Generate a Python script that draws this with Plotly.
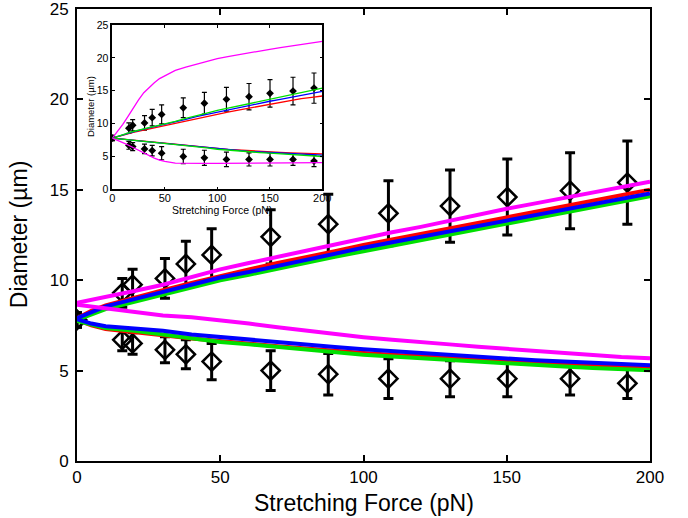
import plotly.graph_objects as go

# ---------------- data ----------------
# experimental points (mean +/- error)
force_pts = [0, 15.8, 19.4, 30.7, 38, 47, 67.6, 87.7, 108.7, 130.2, 150.2, 172.1, 192.1]
upper_mean = [7.8, 9.3, 9.75, 10.1, 10.9, 11.4, 12.4, 13.1, 13.7, 14.1, 14.6, 14.95, 15.4]
upper_err = [0.4, 0.8, 0.85, 1.1, 1.25, 1.45, 1.5, 1.65, 1.8, 2.0, 2.1, 2.1, 2.3]
lower_mean = [7.8, 6.7, 6.5, 6.15, 5.9, 5.5, 5.0, 4.8, 4.55, 4.55, 4.55, 4.55, 4.3]
lower_err = [0.4, 0.6, 0.6, 0.72, 0.8, 1.0, 1.1, 1.15, 1.1, 1.0, 1.0, 0.9, 0.85]

# main panel simulations
force_main = [0, 5, 10, 20, 30, 40, 50, 60, 70, 80, 90, 100, 110, 120, 130, 140, 150, 160, 170, 180, 190, 200]
red_up = [7.9, 8.3, 8.6, 9.05, 9.45, 9.85, 10.25, 10.6, 10.95, 11.25, 11.6, 11.95, 12.25, 12.55, 12.9, 13.2, 13.5, 13.8, 14.1, 14.4, 14.7, 15.0]
green_up = [7.8, 8.1, 8.4, 8.8, 9.2, 9.6, 10.0, 10.3, 10.65, 10.95, 11.3, 11.6, 11.9, 12.25, 12.55, 12.85, 13.15, 13.45, 13.75, 14.05, 14.35, 14.65]
blue_up = [7.9, 8.25, 8.55, 8.95, 9.35, 9.75, 10.15, 10.45, 10.8, 11.1, 11.45, 11.8, 12.1, 12.4, 12.75, 13.05, 13.35, 13.65, 13.95, 14.25, 14.55, 14.8]
magenta_up = [8.75, 8.9, 9.05, 9.4, 9.75, 10.2, 10.6, 10.95, 11.3, 11.65, 12.0, 12.35, 12.65, 12.95, 13.3, 13.6, 13.95, 14.25, 14.55, 14.85, 15.15, 15.45]
red_lo = [7.8, 7.5, 7.3, 7.15, 6.95, 6.78, 6.62, 6.5, 6.35, 6.22, 6.08, 5.97, 5.87, 5.78, 5.7, 5.62, 5.52, 5.45, 5.38, 5.3, 5.25, 5.2]
green_lo = [7.75, 7.55, 7.35, 7.2, 7.0, 6.78, 6.58, 6.45, 6.3, 6.15, 6.0, 5.88, 5.78, 5.68, 5.58, 5.48, 5.38, 5.3, 5.22, 5.15, 5.08, 5.02]
blue_lo = [7.85, 7.6, 7.45, 7.35, 7.2, 7.0, 6.85, 6.7, 6.57, 6.43, 6.3, 6.18, 6.07, 5.97, 5.87, 5.77, 5.65, 5.57, 5.5, 5.42, 5.36, 5.3]
magenta_lo = [8.65, 8.55, 8.4, 8.2, 8.05, 7.95, 7.8, 7.6, 7.4, 7.2, 7.0, 6.85, 6.7, 6.55, 6.45, 6.32, 6.2, 6.08, 5.95, 5.85, 5.75, 5.68]

# inset simulations
force_inset = [0, 10, 20, 30, 40, 50, 60, 70, 80, 90, 100, 110, 120, 130, 140, 150, 160, 170, 180, 190, 200]
ins_red_up = [7.8, 8.25, 8.65, 9.0, 9.35, 9.65, 10.05, 10.4, 10.8, 11.1, 11.45, 11.75, 12.05, 12.35, 12.65, 12.95, 13.25, 13.5, 13.8, 14.0, 14.2]
ins_blue_up = [7.8, 8.3, 8.75, 9.15, 9.5, 9.85, 10.25, 10.65, 11.05, 11.4, 11.75, 12.1, 12.45, 12.75, 13.1, 13.4, 13.7, 14.0, 14.3, 14.6, 14.9]
ins_green_up = [7.8, 8.35, 8.8, 9.2, 9.55, 9.9, 10.35, 10.8, 11.25, 11.6, 12.0, 12.35, 12.7, 13.05, 13.4, 13.7, 14.05, 14.4, 14.7, 15.05, 15.4]
ins_red_lo = [7.8, 7.62, 7.48, 7.33, 7.18, 7.03, 6.85, 6.68, 6.53, 6.38, 6.22, 6.08, 5.97, 5.87, 5.78, 5.7, 5.62, 5.55, 5.5, 5.45, 5.4]
ins_blue_lo = [7.8, 7.6, 7.45, 7.3, 7.15, 7.0, 6.8, 6.62, 6.47, 6.32, 6.15, 6.0, 5.88, 5.78, 5.68, 5.6, 5.5, 5.42, 5.35, 5.28, 5.2]
ins_green_lo = [7.8, 7.6, 7.45, 7.3, 7.15, 7.0, 6.8, 6.6, 6.45, 6.3, 6.1, 5.95, 5.8, 5.7, 5.6, 5.5, 5.4, 5.3, 5.2, 5.1, 5.0]
force_inset_mag = [0, 5, 10, 15, 20, 25, 30, 35, 40, 45, 50, 60, 70, 80, 90, 100, 110, 120, 130, 140, 150, 160, 170, 180, 190, 200]
ins_magenta_up = [7.8, 8.8, 9.9, 11.1, 12.4, 13.6, 14.7, 15.5, 16.2, 16.85, 17.3, 18.1, 18.6, 19.05, 19.55, 19.9, 20.2, 20.5, 20.75, 21.0, 21.3, 21.55, 21.8, 22.05, 22.3, 22.5]
ins_magenta_lo = [7.8, 7.5, 7.1, 6.75, 6.35, 5.95, 5.5, 5.1, 4.75, 4.45, 4.25, 4.0, 3.95, 3.95, 3.95, 3.95, 3.95, 3.95, 3.95, 3.95, 3.98, 3.98, 4.0, 4.0, 4.02, 4.05]

x_ticks = [0, 50, 100, 150, 200]
y_ticks = [0, 5, 10, 15, 20, 25]
x_label = "Stretching Force (pN)"
y_label = "Diameter (µm)"

RED, GREEN, BLUE, MAGENTA = "#FF0000", "#00E000", "#0000FF", "#FF00FF"
FONT = "Liberation Sans, Arial, Helvetica, sans-serif"

fig = go.Figure()

# ---------- main panel ----------
for mean, err in [(upper_mean, upper_err), (lower_mean, lower_err)]:
    fig.add_trace(go.Scatter(
        x=force_pts, y=mean, mode="markers",
        error_y=dict(type="data", array=err, visible=True, color="black", thickness=3, width=5),
        marker=dict(symbol="diamond-open", size=14, color="black", line=dict(width=2.5, color="black")),
        xaxis="x", yaxis="y", showlegend=False))

for ys, col in [(red_up, RED), (green_up, GREEN), (blue_up, BLUE), (magenta_up, MAGENTA),
                (red_lo, RED), (green_lo, GREEN), (blue_lo, BLUE), (magenta_lo, MAGENTA)]:
    fig.add_trace(go.Scatter(x=force_main, y=ys, mode="lines", line=dict(color=col, width=4),
                             xaxis="x", yaxis="y", showlegend=False))

# ---------- inset ----------
for mean, err in [(upper_mean, upper_err), (lower_mean, lower_err)]:
    fig.add_trace(go.Scatter(
        x=force_pts, y=mean, mode="markers",
        error_y=dict(type="data", array=err, visible=True, color="black", thickness=1.2, width=2.5),
        marker=dict(symbol="diamond", size=6, color="black"),
        xaxis="x2", yaxis="y2", showlegend=False))

for xs, ys, col in [(force_inset, ins_red_up, RED), (force_inset, ins_blue_up, BLUE),
                    (force_inset, ins_green_up, GREEN), (force_inset_mag, ins_magenta_up, MAGENTA),
                    (force_inset, ins_red_lo, RED), (force_inset, ins_blue_lo, BLUE),
                    (force_inset, ins_green_lo, GREEN), (force_inset_mag, ins_magenta_lo, MAGENTA)]:
    fig.add_trace(go.Scatter(x=xs, y=ys, mode="lines", line=dict(color=col, width=1.3),
                             xaxis="x2", yaxis="y2", showlegend=False))

axis_common = dict(showline=True, linecolor="black", mirror="ticks", ticks="inside",
                   tickcolor="black", showgrid=False, zeroline=False, automargin=False,
                   ticklabeloverflow="allow")

fig.update_layout(
    width=688, height=518,
    margin=dict(l=77, r=38, t=9, b=57, autoexpand=False),
    paper_bgcolor="white", plot_bgcolor="white",
    font=dict(family=FONT, color="black"),
    xaxis=dict(domain=[0, 1], range=[0, 200], tickvals=x_ticks, linewidth=2, ticklen=6,
               tickwidth=1.5, tickfont=dict(size=17), ticklabelstandoff=0, **axis_common),
    yaxis=dict(domain=[0, 1], range=[0, 25], tickvals=y_ticks, linewidth=2, ticklen=6,
               tickwidth=1.5, tickfont=dict(size=17), ticklabelstandoff=3, **axis_common),
    xaxis2=dict(domain=[0.0616, 0.4281], range=[0, 200], tickvals=x_ticks, anchor="y2",
                linewidth=1.5, ticklen=3, tickwidth=1, tickfont=dict(size=11),
                ticklabelstandoff=-2, **axis_common),
    yaxis2=dict(domain=[0.601, 0.9646], range=[0, 25], tickvals=y_ticks, anchor="x2",
                linewidth=1.5, ticklen=3, tickwidth=1, tickfont=dict(size=10.5),
                ticklabelstandoff=0, **axis_common),
    annotations=[
        dict(text=x_label, xref="paper", yref="paper", x=0.5, y=-0.093, xanchor="center",
             yanchor="middle", showarrow=False, font=dict(size=23)),
        dict(text=y_label, xref="paper", yref="paper", x=-0.101, y=0.5, xanchor="center",
             yanchor="middle", textangle=-90, showarrow=False, font=dict(size=23)),
        dict(text=x_label, xref="paper", yref="paper", x=0.253, y=0.555, xanchor="center",
             yanchor="middle", showarrow=False, font=dict(size=10.5)),
        dict(text=y_label, xref="paper", yref="paper", x=0.0227, y=0.783, xanchor="center",
             yanchor="middle", textangle=-90, showarrow=False, font=dict(size=9.5)),
    ],
)

# remove the browser's default 8px body margin so the figure sits at the page corner
fig.write_html("out.html", config={"displayModeBar": False},
               post_script="document.body.style.margin='0px';")
